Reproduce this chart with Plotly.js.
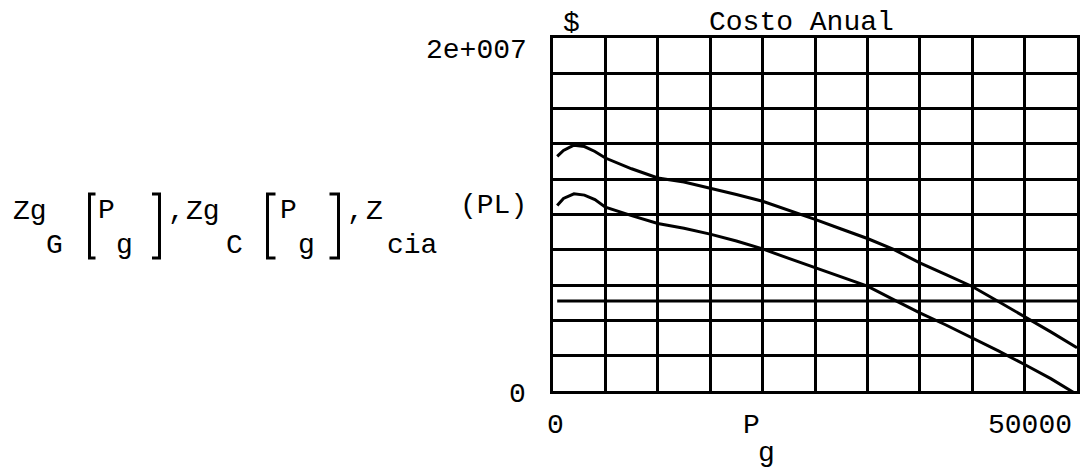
<!DOCTYPE html>
<html>
<head>
<meta charset="utf-8">
<script src="https://cdn.plot.ly/plotly-3.0.1.min.js"></script>
<style>
  html, body { margin: 0; padding: 0; background: #fff; }
  #chart { width: 1083px; height: 468px; }
</style>
</head>
<body>
<div id="chart"></div>
<script>
// Generation output levels P_g (kg) at which the annual cost curves are evaluated
const pg = [400, 1000, 2000, 3000, 4000, 5000, 7500, 10000, 12500, 15000, 17500, 20000,
            22500, 25000, 27500, 30000, 32500, 35000, 37500, 40000, 42500, 45000, 47500, 50000];

// Annual cost of own generation, option G ($)
const zgG = [13.29e6, 13.63e6, 13.93e6, 13.85e6, 13.57e6, 13.20e6, 12.59e6, 12.07e6, 11.84e6, 11.50e6,
             11.13e6, 10.75e6, 10.25e6, 9.72e6, 9.18e6, 8.64e6, 8.02e6, 7.26e6, 6.60e6, 5.92e6,
             5.07e6, 4.22e6, 3.35e6, 2.45e6];

// Annual cost of own generation, option C ($)
const zgC = [10.51e6, 10.91e6, 11.17e6, 11.10e6, 10.85e6, 10.42e6, 9.94e6, 9.49e6, 9.22e6, 8.89e6,
             8.50e6, 8.05e6, 7.51e6, 6.98e6, 6.46e6, 5.94e6, 5.18e6, 4.43e6, 3.74e6, 3.01e6,
             2.27e6, 1.50e6, 0.70e6, -0.20e6];

// Annual cost of buying from the company at load PL ($), flat over the range
const plRange = [400, 50000];
const zCia = [5.10e6, 5.10e6];

// Axis limits and their labels
const xLimits = [0, 50000];
const yLimits = [0, 2e7];
const xLimitLabels = ['0', '50000'];
const yLimitLabels = ['0', '2e+007'];

// Plot-area geometry in page pixels
const W = 1083, H = 468;
const L = 553, R = 6, T = 38, B = 77;
const PW = W - L - R, PH = H - T - B;
const px = x => (x - L) / PW;
const py = y => (H - B - y) / PH;

const FONT = 'Liberation Mono, Courier New, monospace';
const FS = 28;

function label(text, x, y, xanchor, size) {
  return {
    text: text, xref: 'paper', yref: 'paper', x: px(x), y: py(y),
    xanchor: xanchor || 'center', yanchor: 'middle', showarrow: false,
    font: { family: FONT, size: size || FS, color: '#000' }
  };
}

function bracket(xStem, xEnd, yTop, yBot) {
  return {
    type: 'path', xref: 'paper', yref: 'paper',
    path: 'M ' + px(xEnd) + ',' + py(yTop) + ' L ' + px(xStem) + ',' + py(yTop) +
          ' L ' + px(xStem) + ',' + py(yBot) + ' L ' + px(xEnd) + ',' + py(yBot),
    line: { color: '#000', width: 3 }
  };
}

const lineStyle = { color: '#000', width: 3 };

const traces = [
  { x: pg, y: zgG, type: 'scatter', mode: 'lines', line: lineStyle, name: 'Zg_G' },
  { x: pg, y: zgC, type: 'scatter', mode: 'lines', line: lineStyle, name: 'Zg_C' },
  { x: plRange, y: zCia, type: 'scatter', mode: 'lines', line: lineStyle, name: 'Z_cia' }
];

const axisCommon = {
  showgrid: true, gridcolor: '#000', gridwidth: 3,
  showline: true, mirror: true, linecolor: '#000', linewidth: 3,
  zeroline: false, ticks: '', showticklabels: false, fixedrange: true
};

const annotations = [
  label('$', 571, 23),
  label('Costo Anual', 801, 22),
  label(yLimitLabels[1], 529, 50, 'right'),
  label(yLimitLabels[0], 517, 394),
  label(xLimitLabels[0], 555, 425),
  label(xLimitLabels[1], 1074, 425, 'right'),
  label('P', 751, 425),
  label('g', 766, 453),
  // y-axis expression: Zg_G[P_g], Zg_C[P_g], Z_cia(PL)
  label('Zg', 29.5, 211),
  label('G', 54.5, 245),
  label('P', 106, 210),
  label('g', 124.5, 245),
  label(',', 176, 211),
  label('Zg', 202.5, 211),
  label('C', 234.5, 245),
  label('P', 288, 210),
  label('g', 306.5, 245),
  label(',', 355, 211),
  label('Z', 374, 211),
  label('cia', 412, 245),
  label('(PL)', 493, 205)
];

const shapes = [
  bracket(89.5, 95.5, 194, 258),
  bracket(159.5, 152, 194, 258),
  bracket(267.5, 275.5, 194, 258),
  bracket(338.5, 329.5, 194, 258)
];

const layout = {
  width: W, height: H,
  margin: { l: L, r: R, t: T, b: B, pad: 0 },
  paper_bgcolor: '#fff', plot_bgcolor: '#fff',
  showlegend: false,
  xaxis: Object.assign({ range: xLimits, dtick: 5000, tick0: 0 }, axisCommon),
  yaxis: Object.assign({ range: yLimits, dtick: 2e6, tick0: 0 }, axisCommon),
  annotations: annotations,
  shapes: shapes
};

Plotly.newPlot('chart', traces, layout, { staticPlot: true, displayModeBar: false });
</script>
</body>
</html>
